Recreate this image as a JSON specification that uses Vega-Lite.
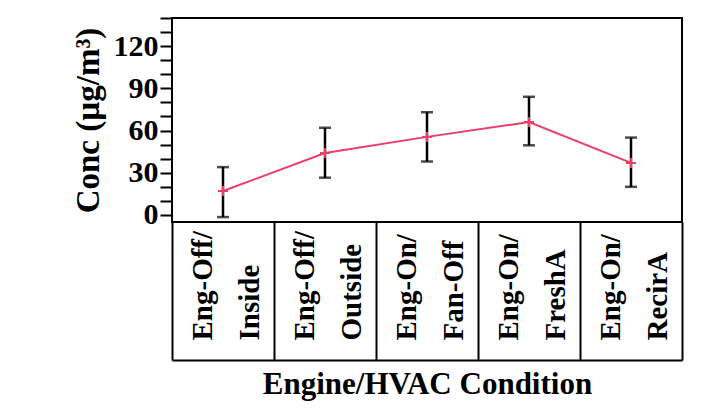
{
  "$schema": "https://vega.github.io/schema/vega-lite/v6.json",
  "width": 510,
  "height": 204,
  "padding": {"left": 72, "top": 3, "right": 38, "bottom": 5},
  "background": "white",
  "config": {
    "view": {"stroke": "black", "strokeWidth": 2},
    "font": "Liberation Serif",
    "axisY": {
      "grid": false,
      "domain": false,
      "ticks": true,
      "tickSize": 12,
      "tickWidth": 2,
      "tickColor": "black",
      "labelOverlap": false,
      "labelFont": "Liberation Serif",
      "labelFontSize": 30,
      "labelFontWeight": "bold",
      "labelColor": "black",
      "labelPadding": 2,
      "titleFont": "Liberation Serif",
      "titleFontSize": 33,
      "titleFontWeight": "bold",
      "titleColor": "black",
      "titlePadding": 8
    }
  },
  "data": {
    "values": [
      {"cond": "Eng-Off/Inside", "conc": 17, "lo": -1.5, "hi": 34},
      {"cond": "Eng-Off/Outside", "conc": 44, "lo": 26.5, "hi": 62},
      {"cond": "Eng-On/Fan-Off", "conc": 55.5, "lo": 38, "hi": 73},
      {"cond": "Eng-On/FreshA", "conc": 66, "lo": 49.5, "hi": 84},
      {"cond": "Eng-On/RecirA", "conc": 37, "lo": 20, "hi": 55}
    ]
  },
  "encoding": {
    "x": {
      "field": "cond",
      "type": "nominal",
      "sort": null,
      "scale": {"paddingInner": 0, "paddingOuter": 0},
      "axis": {
        "orient": "bottom",
        "offset": 138,
        "tickBand": "extent",
        "tickSize": -138,
        "tickWidth": 2,
        "tickColor": "black",
        "domainColor": "black",
        "domainWidth": 2,
        "labelAngle": -90,
        "labelAlign": "left",
        "labelBaseline": "middle",
        "labelOffset": -21,
        "labelFont": "Liberation Serif",
        "labelFontSize": 29,
        "labelFontWeight": "bold",
        "labelColor": "black",
        "labelLineHeight": 47,
        "labelPadding": 118,
        "labelOverlap": false,
        "labelExpr": "datum.label ? [split(datum.label, '/')[0] + '/', split(datum.label, '/')[1]] : ''",
        "title": "Engine/HVAC Condition",
        "titleFont": "Liberation Serif",
        "titleFontSize": 31,
        "titleFontWeight": "bold",
        "titleColor": "black",
        "titlePadding": 8
      }
    },
    "y": {
      "field": "conc",
      "type": "quantitative",
      "title": "Conc (µg/m³)",
      "scale": {"domain": [-5, 140], "nice": false, "zero": false},
      "axis": {
        "values": [0, 10, 20, 30, 40, 50, 60, 70, 80, 90, 100, 110, 120, 130, 140],
        "labelExpr": "datum.value % 30 === 0 ? datum.label : ''"
      }
    }
  },
  "layer": [
    {
      "mark": {"type": "rule", "color": "black", "strokeWidth": 2.5},
      "encoding": {
        "y": {"field": "lo", "type": "quantitative", "title": "Conc (µg/m³)", "axis": {"values": [0, 10, 20, 30, 40, 50, 60, 70, 80, 90, 100, 110, 120, 130, 140], "labelExpr": "datum.value % 30 === 0 ? datum.label : ''"}},
        "y2": {"field": "hi"}
      }
    },
    {
      "mark": {"type": "tick", "orient": "horizontal", "color": "black", "size": 12, "thickness": 2.5},
      "encoding": {"y": {"field": "lo", "type": "quantitative", "title": "Conc (µg/m³)", "axis": {"values": [0, 10, 20, 30, 40, 50, 60, 70, 80, 90, 100, 110, 120, 130, 140], "labelExpr": "datum.value % 30 === 0 ? datum.label : ''"}}}
    },
    {
      "mark": {"type": "tick", "orient": "horizontal", "color": "black", "size": 12, "thickness": 2.5},
      "encoding": {"y": {"field": "hi", "type": "quantitative", "title": "Conc (µg/m³)", "axis": {"values": [0, 10, 20, 30, 40, 50, 60, 70, 80, 90, 100, 110, 120, 130, 140], "labelExpr": "datum.value % 30 === 0 ? datum.label : ''"}}}
    },
    {
      "mark": {"type": "line", "color": "#EE3D66", "strokeWidth": 2}
    },
    {
      "mark": {"type": "point", "shape": "M-1,0L1,0M0,-1L0,1", "filled": false, "color": "#EE3D66", "strokeWidth": 2, "size": 100, "opacity": 1}
    }
  ]
}
